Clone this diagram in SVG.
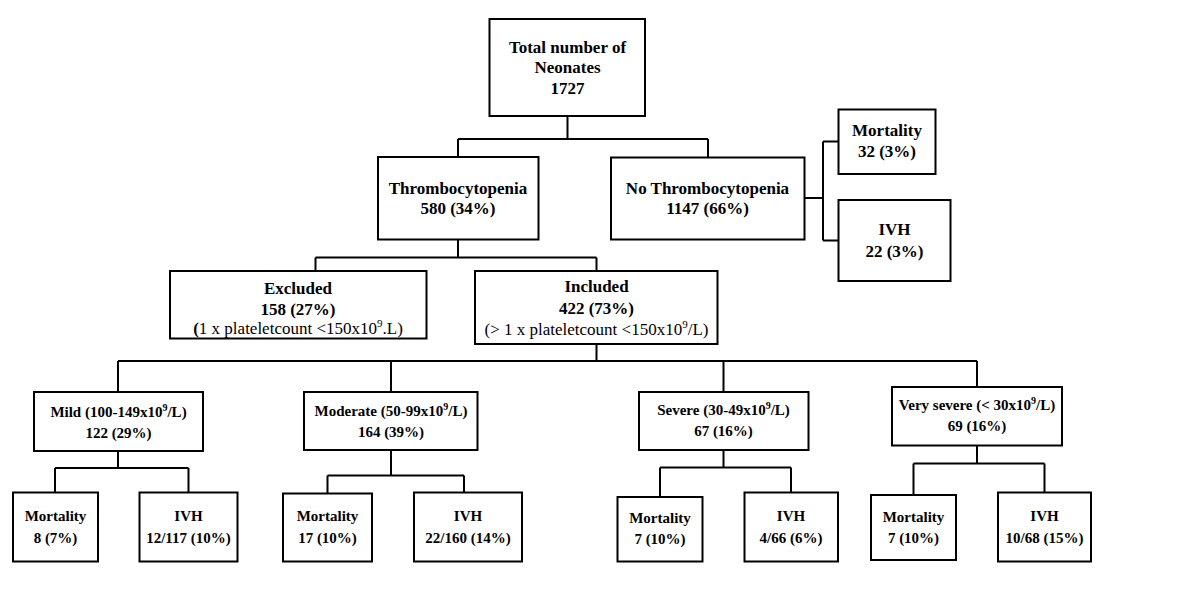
<svg xmlns="http://www.w3.org/2000/svg" width="1200" height="600" viewBox="0 0 1200 600">
<style>
rect{fill:#fff;stroke:#000;stroke-width:2}
.c path{fill:none;stroke:#000;stroke-width:2}
text{font-family:"Liberation Serif","Times New Roman",serif;font-size:17px;font-weight:bold;text-anchor:middle;fill:#000}
.lo text{font-size:15px}
.n{font-weight:normal}
.s{font-size:11px}
.lo .s{font-size:10px}
</style>
<rect x="0" y="0" width="1200" height="600" style="fill:#fff;stroke:none"/>
<g class="c" id="connectors">
<path d="M567.5 116V139M458 139H708M458 139V157M708 139V157"/>
<path d="M804 198H823M823 141.5V240.5M823 141.5H838M823 240.5H838"/>
<path d="M458 239V257.5M315.5 257.5H596.5M315.5 257.5V271M596.5 257.5V271"/>
<path d="M596.5 344V361M118 361H977M118 361V392M391 361V392M723.5 361V392M977 361V387"/>
<path d="M118 451V468M55 468H188.5M55 468V492.5M188.5 468V492.5"/>
<path d="M391 450V475.5M327.5 475.5H464M327.5 475.5V493.5M464 475.5V492.5"/>
<path d="M723.5 450V467.5M660 467.5H791M660 467.5V497M791 467.5V492.5"/>
<path d="M977 445V463.5M913.5 463.5H1044.5M913.5 463.5V495M1044.5 463.5V492.5"/>
</g>
<g id="total"><rect x="489.5" y="19" width="155.5" height="97"/><text x="567.5" y="53">Total number of</text><text x="567.5" y="73">Neonates</text><text x="567.5" y="93.5">1727</text></g>
<g id="thrombo"><rect x="378" y="157" width="160.5" height="82.5"/><text x="458" y="193.5">Thrombocytopenia</text><text x="458" y="214">580 (34%)</text></g>
<g id="nothrombo"><rect x="611" y="157.5" width="193.5" height="82"/><text x="707.5" y="193.5">No Thrombocytopenia</text><text x="707.5" y="213.5">1147 (66%)</text></g>
<g id="nt-mortality"><rect x="838.5" y="109.5" width="97" height="64.5"/><text x="887" y="136">Mortality</text><text x="887" y="157">32 (3%)</text></g>
<g id="nt-ivh"><rect x="838.5" y="200" width="112" height="81"/><text x="894.5" y="235">IVH</text><text x="894.5" y="256.5">22 (3%)</text></g>
<g id="excluded"><rect x="170" y="271" width="256.5" height="67.5"/><text x="298" y="294">Excluded</text><text x="298" y="314.5">158 (27%)</text><text x="298" y="334"><tspan>(</tspan><tspan class="n">1 x plateletcount &lt;150x10</tspan><tspan class="n s" dy="-7">9</tspan><tspan class="n" dy="7">.L)</tspan></text></g>
<g id="included"><rect x="475" y="271" width="242.5" height="73"/><text x="596.5" y="291.5">Included</text><text x="596.5" y="314">422 (73%)</text><text x="596.5" y="335" class="n">(&gt; 1 x plateletcount &lt;150x10<tspan class="s" dy="-7">9</tspan><tspan dy="7">/L)</tspan></text></g>
<g class="lo">
<g id="mild"><rect x="34" y="392" width="169" height="59"/><text x="118.5" y="416.5">Mild (100-149x10<tspan class="s" dy="-6">9</tspan><tspan dy="6">/L)</tspan></text><text x="118.5" y="437.5">122 (29%)</text></g>
<g id="moderate"><rect x="304" y="392" width="173.5" height="58"/><text x="391" y="416">Moderate (50-99x10<tspan class="s" dy="-6">9</tspan><tspan dy="6">/L)</tspan></text><text x="391" y="436.5">164 (39%)</text></g>
<g id="severe"><rect x="639" y="392" width="169.5" height="58"/><text x="723.5" y="415">Severe (30-49x10<tspan class="s" dy="-6">9</tspan><tspan dy="6">/L)</tspan></text><text x="723.5" y="436">67 (16%)</text></g>
<g id="verysevere"><rect x="892" y="387" width="170" height="58.5"/><text x="977" y="410">Very severe (&lt; 30x10<tspan class="s" dy="-6">9</tspan><tspan dy="6">/L)</tspan></text><text x="977" y="431">69 (16%)</text></g>
<g id="mild-mortality"><rect x="13" y="492.5" width="85" height="69"/><text x="55.5" y="521">Mortality</text><text x="55.5" y="542.5">8 (7%)</text></g>
<g id="mild-ivh"><rect x="139.5" y="492.5" width="98" height="69"/><text x="188.5" y="521">IVH</text><text x="188.5" y="542.5">12/117 (10%)</text></g>
<g id="mod-mortality"><rect x="283" y="493.5" width="89" height="68"/><text x="327.5" y="521">Mortality</text><text x="327.5" y="542.5">17 (10%)</text></g>
<g id="mod-ivh"><rect x="414" y="492.5" width="108" height="69"/><text x="468" y="521">IVH</text><text x="468" y="542.5">22/160 (14%)</text></g>
<g id="sev-mortality"><rect x="617.5" y="497" width="85" height="64.5"/><text x="660" y="522.5">Mortality</text><text x="660" y="544">7 (10%)</text></g>
<g id="sev-ivh"><rect x="744.5" y="492.5" width="93.5" height="69"/><text x="791" y="521">IVH</text><text x="791" y="542.5">4/66 (6%)</text></g>
<g id="vs-mortality"><rect x="871" y="495" width="85" height="65"/><text x="913.5" y="521.5">Mortality</text><text x="913.5" y="542.5">7 (10%)</text></g>
<g id="vs-ivh"><rect x="998" y="492.5" width="93" height="69"/><text x="1044.5" y="521">IVH</text><text x="1044.5" y="542.5">10/68 (15%)</text></g>
</g>
</svg>
